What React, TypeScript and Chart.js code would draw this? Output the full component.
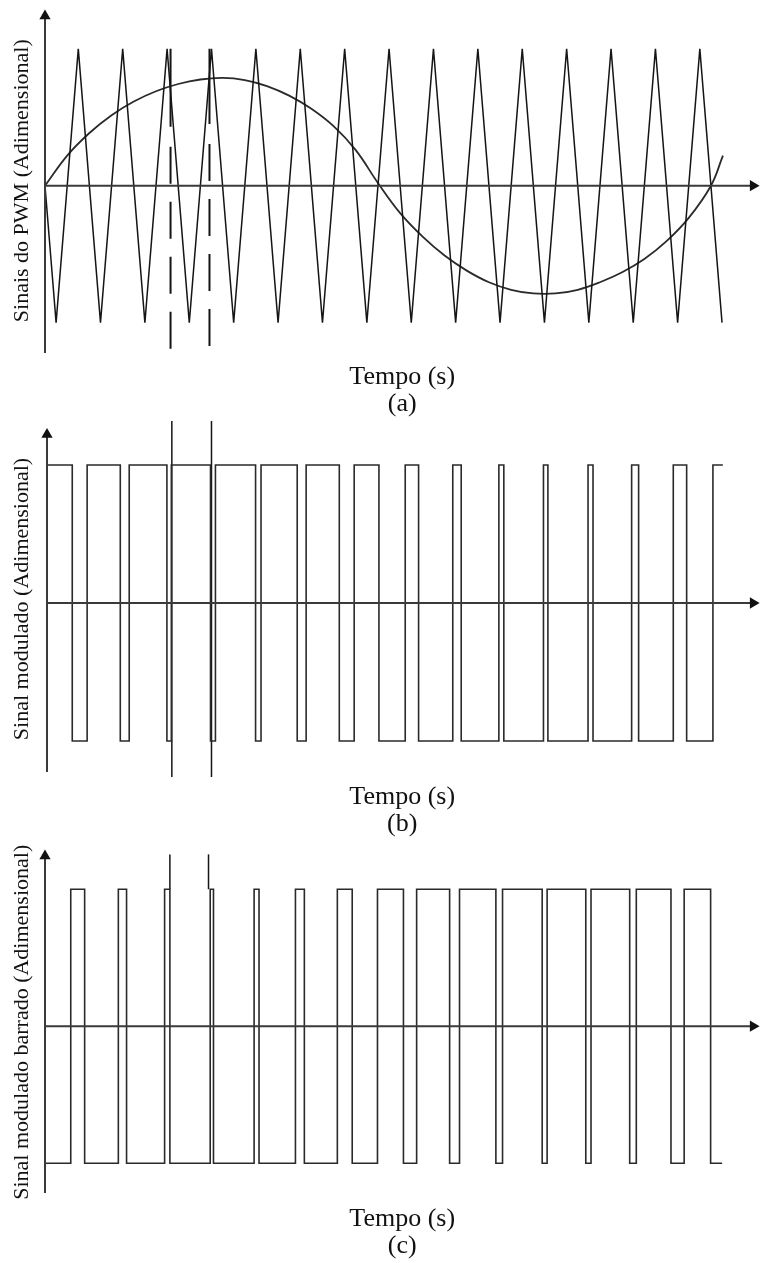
import React, { useEffect, useRef } from 'react';
import { Chart, registerables } from 'chart.js';

Chart.register(...registerables);

// ---------------- DATA (time measured in carrier periods) ----------------
// (a) triangular carrier: vertices
const CARRIER_T = [0, 0.25, 0.75, 1.25, 1.75, 2.25, 2.75, 3.25, 3.75, 4.25, 4.75, 5.25, 5.75, 6.25, 6.75, 7.25, 7.75, 8.25, 8.75, 9.25, 9.75, 10.25, 10.75, 11.25, 11.75, 12.25, 12.75, 13.25, 13.75, 14.25, 14.75, 15.25];
const CARRIER_V = [0, -1, 1, -1, 1, -1, 1, -1, 1, -1, 1, -1, 1, -1, 1, -1, 1, -1, 1, -1, 1, -1, 1, -1, 1, -1, 1, -1, 1, -1, 1, -1];

// (a) modulating (sinusoidal) reference
const MOD_T = [0, 0.5, 1, 1.5, 2, 2.5, 3, 3.5, 4, 4.5, 5, 5.5, 6, 6.5, 7, 7.5, 8, 8.5, 9, 9.5, 10, 10.5, 11, 11.5, 12, 12.5, 13, 13.5, 14, 14.5, 15, 15.27];
const MOD_V = [0, 0.22, 0.385, 0.515, 0.615, 0.69, 0.743, 0.776, 0.788, 0.772, 0.728, 0.658, 0.562, 0.435, 0.26, 0.02, -0.2, -0.37, -0.51, -0.62, -0.705, -0.76, -0.787, -0.787, -0.76, -0.705, -0.632, -0.535, -0.405, -0.235, 0, 0.22];

// (a) dashed marker lines
const DASH_T = [2.828, 3.705];
const DASH_BOTTOM = [-1.19, -1.17];
const DASH_TOP = [1.0, 1.0];

// (b) modulated signal: switching instants and levels (stepped)
const PWM_T = [0.045, 0.614, 0.949, 1.696, 1.897, 2.746, 2.846, 3.728, 3.839, 4.743, 4.866, 5.681, 5.882, 6.629, 6.964, 7.522, 8.114, 8.415, 9.185, 9.375, 10.223, 10.335, 11.228, 11.328, 12.232, 12.344, 13.214, 13.371, 14.152, 14.453, 15.045, 15.268];
const PWM_V = [1, -1, 1, -1, 1, -1, 1, -1, 1, -1, 1, -1, 1, -1, 1, -1, 1, -1, 1, -1, 1, -1, 1, -1, 1, -1, 1, -1, 1, -1, 1, 1];
const PWM_MARK_T = [2.857, 3.75];
const PWM_MARK_Y = [-1.261, 1.319];

// (c) complementary modulated signal
const PWMBAR_T = [0, 0.58, 0.893, 1.652, 1.837, 2.694, 2.813, 3.721, 3.795, 4.71, 4.821, 5.641, 5.842, 6.585, 6.92, 7.489, 8.074, 8.371, 9.114, 9.337, 10.156, 10.306, 11.199, 11.31, 12.181, 12.299, 13.17, 13.319, 14.1, 14.397, 14.993, 15.252];
const PWMBAR_V = [-1, 1, -1, 1, -1, 1, -1, 1, -1, 1, -1, 1, -1, 1, -1, 1, -1, 1, -1, 1, -1, 1, -1, 1, -1, 1, -1, 1, -1, 1, -1, -1];
const PWMBAR_MARK_T = [2.813, 3.683];
const PWMBAR_MARK_Y = [1.0, 1.254];

// axes (origin x, y-axis bottom, y-axis arrow, x-axis arrow)
const AXIS_ORIGIN = [0, 0.045, 0];
const AXIS_Y_BOTTOM = [-1.222, -1.225, -1.217];
const AXIS_Y_TOP = [1.24, 1.221, 1.242];
const AXIS_X_END = [15.95, 15.95, 15.95];

// labels
const X_TITLE = 'Tempo (s)';
const PANEL_TAGS = ['(a)', '(b)', '(c)'];
const Y_TITLES = [
  'Sinais do PWM (Adimensional)',
  'Sinal modulado (Adimensional)',
  'Sinal modulado barrado (Adimensional)',
];

// ---------------- STYLE / LAYOUT ----------------
const FONT = "'Liberation Serif', 'Times New Roman', Times, serif";
const INK = '#151515';
const AXIS_INK = '#3a3a3a';
const X_MAX = 16.094;

type PanelLayout = {
  top: number;
  height: number;
  padTop: number;
  yMin: number;
  yMax: number;
  xTitlePadTop: number;
  xTitlePadBottom: number;
};

const LAYOUTS: PanelLayout[] = [
  { top: 0, height: 418, padTop: 5, yMin: -1.2364, yMax: 1.3091, xTitlePadTop: 9, xTitlePadBottom: 0 },
  { top: 410, height: 429, padTop: 8, yMin: -1.2826, yMax: 1.3406, xTitlePadTop: 4, xTitlePadBottom: 1 },
  { top: 839, height: 424, padTop: 4, yMin: -1.2609, yMax: 1.3188, xTitlePadTop: 6.5, xTitlePadBottom: 3.5 },
];

const zip = (xs: number[], ys: number[]) => xs.map((x, i) => ({ x, y: ys[i] }));

function axisDatasets(i: number) {
  const x0 = AXIS_ORIGIN[i];
  return [
    {
      data: [{ x: x0, y: AXIS_Y_BOTTOM[i] }, { x: x0, y: AXIS_Y_TOP[i] }],
      borderColor: AXIS_INK,
      borderWidth: 2,
      pointRadius: [0, 6.5],
      pointStyle: 'triangle',
      pointRotation: 0,
      pointBackgroundColor: '#111',
      pointBorderWidth: 0,
    },
    {
      data: [{ x: x0, y: 0 }, { x: AXIS_X_END[i], y: 0 }],
      borderColor: AXIS_INK,
      borderWidth: 2,
      pointRadius: [0, 6.5],
      pointStyle: 'triangle',
      pointRotation: 90,
      pointBackgroundColor: '#111',
      pointBorderWidth: 0,
    },
  ];
}

function panelDatasets(i: number): any[] {
  const base = axisDatasets(i);
  if (i === 0) {
    return [
      ...base,
      { data: zip(CARRIER_T, CARRIER_V), borderColor: INK, borderWidth: 1.5, pointRadius: 0 },
      { data: zip(MOD_T, MOD_V), borderColor: '#2a2a2a', borderWidth: 1.8, pointRadius: 0, tension: 0.4 },
      ...DASH_T.map((t, k) => ({
        data: [{ x: t, y: DASH_BOTTOM[k] }, { x: t, y: DASH_TOP[k] }],
        borderColor: INK,
        borderWidth: 2,
        pointRadius: 0,
        borderDash: [37, 18, 37, 18, 37, 18, 37, 20, 110],
      })),
    ];
  }
  if (i === 1) {
    return [
      ...base,
      { data: zip(PWM_T, PWM_V), borderColor: '#2a2a2a', borderWidth: 1.6, pointRadius: 0, stepped: 'before' },
      ...PWM_MARK_T.map((t) => ({
        data: [{ x: t, y: PWM_MARK_Y[0] }, { x: t, y: PWM_MARK_Y[1] }],
        borderColor: INK,
        borderWidth: 1.5,
        pointRadius: 0,
      })),
    ];
  }
  return [
    ...base,
    { data: zip(PWMBAR_T, PWMBAR_V), borderColor: '#2a2a2a', borderWidth: 1.6, pointRadius: 0, stepped: 'before' },
    ...PWMBAR_MARK_T.map((t) => ({
      data: [{ x: t, y: PWMBAR_MARK_Y[0] }, { x: t, y: PWMBAR_MARK_Y[1] }],
      borderColor: INK,
      borderWidth: 1.5,
      pointRadius: 0,
    })),
  ];
}

function buildConfig(i: number): any {
  const L = LAYOUTS[i];
  return {
    type: 'line',
    data: {
      datasets: panelDatasets(i).map((d) => ({ fill: false, clip: false, ...d })),
    },
    options: {
      animation: false,
      responsive: false,
      maintainAspectRatio: false,
      events: [],
      layout: { padding: { top: L.padTop, left: 0, right: 0, bottom: 0 } },
      plugins: { legend: { display: false }, tooltip: { enabled: false }, title: { display: false } },
      scales: {
        x: {
          type: 'linear',
          min: 0,
          max: X_MAX,
          bounds: 'data',
          grid: { display: false, drawTicks: false },
          border: { display: false },
          ticks: { display: false },
          title: {
            display: true,
            text: [X_TITLE, PANEL_TAGS[i]],
            color: '#111',
            font: { family: FONT, size: 26, lineHeight: '27px' },
            padding: { top: L.xTitlePadTop, bottom: L.xTitlePadBottom },
          },
        },
        y: {
          type: 'linear',
          min: L.yMin,
          max: L.yMax,
          bounds: 'data',
          grid: { display: false, drawTicks: false },
          border: { display: false },
          ticks: { display: false },
          title: {
            display: true,
            text: Y_TITLES[i],
            color: '#111',
            font: { family: FONT, size: 22, lineHeight: '26.4px' },
            padding: { top: 9.3, bottom: 9.3 },
          },
        },
      },
    },
  };
}

export default function App() {
  const refs = [useRef<HTMLCanvasElement>(null), useRef<HTMLCanvasElement>(null), useRef<HTMLCanvasElement>(null)];

  useEffect(() => {
    const charts = refs.map((r, i) => new Chart(r.current as HTMLCanvasElement, buildConfig(i)));
    return () => charts.forEach((c) => c.destroy());
  }, []);

  return (
    <div style={{ position: 'absolute', left: 0, top: 0, width: 766, height: 1263, background: '#fff' }}>
      {LAYOUTS.map((L, i) => (
        <canvas
          key={i}
          ref={refs[i]}
          width={766}
          height={L.height}
          style={{ position: 'absolute', left: 0, top: L.top, width: 766, height: L.height }}
        />
      ))}
    </div>
  );
}
